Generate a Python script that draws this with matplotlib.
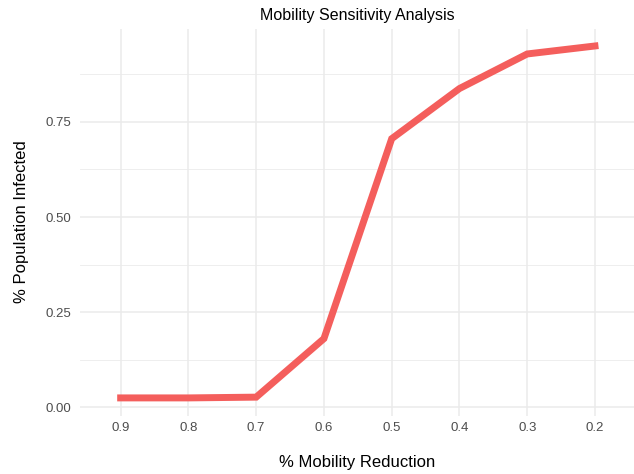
import matplotlib.pyplot as plt
import numpy as np

plt.rcParams['font.family'] = ['Liberation Sans', 'DejaVu Sans']

mobility = ['0.9', '0.8', '0.7', '0.6', '0.5', '0.4', '0.3', '0.2']
infected = [0.024, 0.024, 0.026, 0.180, 0.706, 0.838, 0.929, 0.950]
yticks = [0.00, 0.25, 0.50, 0.75]

W, H = 634, 474
fig = plt.figure(figsize=(W / 100, H / 100), dpi=100)
ax = fig.add_axes([80 / W, 1 - 415.5 / H, (634 - 80) / W, (415.5 - 28.5) / H])

x = np.arange(len(mobility))
ax.plot(x, infected, color='#F45E5C', linewidth=5, solid_joinstyle='miter', zorder=3)

ax.set_xlim(-0.6, 7.576)
ax.set_ylim(-0.0223, 0.996)
ax.set_xticks(x)
ax.set_xticklabels(mobility)
ax.set_yticks(yticks)
ax.set_yticklabels(['%.2f' % v for v in yticks])
ax.set_yticks([0.125, 0.375, 0.625, 0.875], minor=True)

ax.grid(which='major', color='#EBEBEB', linewidth=1.1)
ax.grid(which='minor', axis='y', color='#EBEBEB', linewidth=0.6)
ax.set_axisbelow(True)
for s in ax.spines.values():
    s.set_visible(False)
ax.tick_params(which='both', length=0, labelsize=9.5, colors='#4D4D4D', pad=5)
ax.tick_params(axis='y', pad=6)

ax.set_xlabel('% Mobility Reduction', fontsize=12, labelpad=15)
ax.set_ylabel('% Population Infected', fontsize=12, labelpad=12)
ax.set_title('Mobility Sensitivity Analysis', fontsize=11.5, pad=6)

fig.savefig('out.png', dpi=100)
